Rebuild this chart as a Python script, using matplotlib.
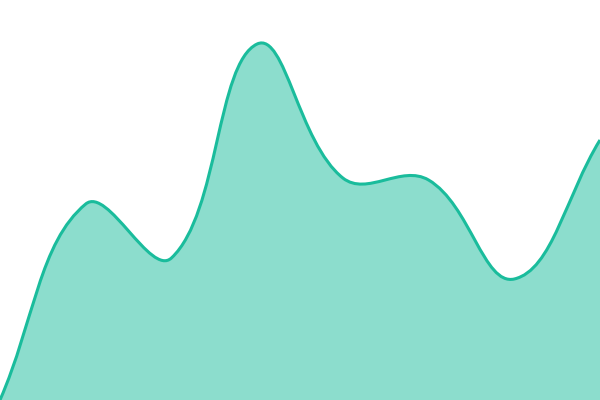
import numpy as np
import matplotlib
matplotlib.use('Agg')
import matplotlib.pyplot as plt
from matplotlib.path import Path
from matplotlib.patches import PathPatch

# data (y axis 0..100, one point per label)
labels = ['1', '2', '3', '4', '5', '6', '7', '8']
values = [0, 49, 35.5, 89, 55.5, 55, 30.25, 65]

line_color = '#1abc9c'
tension = 0.4

W, H = 600, 400
fig = plt.figure(figsize=(W / 100, H / 100), dpi=100)
ax = fig.add_axes([0, 0, 1, 1])
ax.set_xlim(0, len(values) - 1)
ax.set_ylim(0, 100)
ax.axis('off')

# points in pixel space
px = np.arange(len(values)) * W / (len(values) - 1)
py = np.array(values) * H / 100.0
pts = np.column_stack([px, py])

# chart.js style spline control points
n = len(pts)
cp_prev = pts.copy()
cp_next = pts.copy()
for i in range(n):
    prev = pts[max(i - 1, 0)]
    cur = pts[i]
    nxt = pts[min(i + 1, n - 1)]
    d01 = np.hypot(*(cur - prev))
    d12 = np.hypot(*(nxt - cur))
    tot = d01 + d12
    s01 = d01 / tot if tot else 0
    s12 = d12 / tot if tot else 0
    fa = tension * s01
    fb = tension * s12
    cp_prev[i] = cur - fa * (nxt - prev)
    cp_next[i] = cur + fb * (nxt - prev)
cp_prev[:, 0] = np.clip(cp_prev[:, 0], 0, W)
cp_next[:, 0] = np.clip(cp_next[:, 0], 0, W)
cp_prev[:, 1] = np.clip(cp_prev[:, 1], 0, H)
cp_next[:, 1] = np.clip(cp_next[:, 1], 0, H)

def to_data(p):
    return (p[0] * (n - 1) / W, p[1] * 100.0 / H)

verts = [to_data(pts[0])]
codes = [Path.MOVETO]
for i in range(n - 1):
    verts += [to_data(cp_next[i]), to_data(cp_prev[i + 1]), to_data(pts[i + 1])]
    codes += [Path.CURVE4] * 3

fill_verts = verts + [(n - 1, 0), (0, 0), verts[0]]
fill_codes = codes + [Path.LINETO, Path.LINETO, Path.CLOSEPOLY]

ax.add_patch(PathPatch(Path(fill_verts, fill_codes), facecolor=line_color,
                       alpha=0.5, edgecolor='none'))
ax.add_patch(PathPatch(Path(verts, codes), facecolor='none',
                       edgecolor=line_color, lw=2.2))

fig.savefig('out.png', dpi=100)
